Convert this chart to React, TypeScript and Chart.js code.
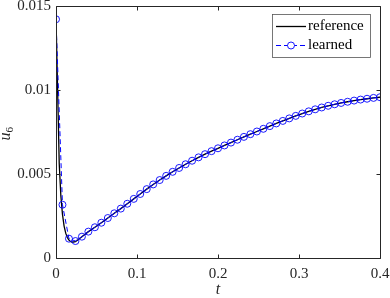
import React, { useEffect, useRef } from 'react';
import { Chart, registerables } from 'chart.js';

Chart.register(...registerables);

// ---- data ----
const learnedT = [
  0, 0.008, 0.016, 0.024, 0.032, 0.04, 0.048, 0.056, 0.064, 0.072, 0.08, 0.088, 0.096,
  0.104, 0.112, 0.12, 0.128, 0.136, 0.144, 0.152, 0.16, 0.168, 0.176, 0.184, 0.192, 0.2,
  0.208, 0.216, 0.224, 0.232, 0.24, 0.248, 0.256, 0.264, 0.272, 0.28, 0.288, 0.296, 0.304,
  0.312, 0.32, 0.328, 0.336, 0.344, 0.352, 0.36, 0.368, 0.376, 0.384, 0.392, 0.4,
];
const learnedU = [
  0.01421, 0.00317, 0.00115, 0.00101, 0.00127, 0.00157, 0.00183, 0.0021, 0.00238, 0.00266,
  0.00294, 0.00323, 0.00352, 0.00381, 0.0041, 0.00438, 0.00464, 0.00489, 0.00513, 0.00536,
  0.00558, 0.00579, 0.00599, 0.00618, 0.00636, 0.00653, 0.0067, 0.00687, 0.00704, 0.00721,
  0.00737, 0.00753, 0.00769, 0.00785, 0.00801, 0.00816, 0.00831, 0.00846, 0.0086, 0.00873,
  0.00885, 0.00896, 0.00906, 0.00915, 0.00923, 0.0093, 0.00937, 0.00943, 0.00948, 0.00953,
  0.00957,
];
const referenceT = [
  0, 0.002, 0.004, 0.006, 0.008, 0.01, 0.012, 0.014, 0.016, 0.018, 0.02, 0.024, 0.032,
  0.04, 0.048, 0.056, 0.064, 0.072, 0.08, 0.088, 0.096, 0.104, 0.112, 0.12, 0.128, 0.136,
  0.144, 0.152, 0.16, 0.168, 0.176, 0.184, 0.192, 0.2, 0.208, 0.216, 0.224, 0.232, 0.24,
  0.248, 0.256, 0.264, 0.272, 0.28, 0.288, 0.296, 0.304, 0.312, 0.32, 0.328, 0.336, 0.344,
  0.352, 0.36, 0.368, 0.376, 0.384, 0.392, 0.4,
];
const referenceU = [
  0.0142, 0.01, 0.0056, 0.0037, 0.0026, 0.0019, 0.00148, 0.00122, 0.00106, 0.00098, 0.00094,
  0.00097, 0.00127, 0.00157, 0.00183, 0.0021, 0.00238, 0.00266, 0.00294, 0.00323, 0.00352,
  0.00381, 0.0041, 0.00438, 0.00464, 0.00489, 0.00513, 0.00536, 0.00558, 0.00579, 0.00599,
  0.00618, 0.00636, 0.00653, 0.0067, 0.00687, 0.00704, 0.00721, 0.00737, 0.00753, 0.00769,
  0.00785, 0.00801, 0.00816, 0.00831, 0.00846, 0.0086, 0.00873, 0.00885, 0.00896, 0.00906,
  0.00915, 0.00923, 0.0093, 0.00937, 0.00943, 0.00948, 0.00953, 0.00957,
];
const xTickLabels = ['0', '0.1', '0.2', '0.3', '0.4'];
const yTickLabels = ['0', '0.005', '0.01', '0.015'];
const seriesLabels = ['reference', 'learned'];
const xTitle = 't';
const yTitleMain = 'u';
const yTitleSub = '6';

const FONT = '"Liberation Serif", "DejaVu Serif", serif';
const AXIS = '#262626';
const BLUE = '#0000ff';

const framePlugin = {
  id: 'frame',
  afterDatasetsDraw(chart: any) {
    const { ctx, chartArea: a, scales } = chart;
    const x = scales.x;
    const y = scales.y;
    ctx.save();
    ctx.strokeStyle = AXIS;
    ctx.lineWidth = 1;
    const L = Math.round(a.left) + 0.5;
    const R = Math.round(a.right) + 0.5;
    const T = Math.round(a.top) + 0.5;
    const B = Math.round(a.bottom) + 0.5;
    ctx.beginPath();
    ctx.moveTo(L, T);
    ctx.lineTo(R, T);
    ctx.lineTo(R, B);
    ctx.lineTo(L, B);
    ctx.closePath();
    ctx.stroke();
    const tl = 4;
    ctx.beginPath();
    x.ticks.forEach((t: any) => {
      const px = Math.round(x.getPixelForValue(t.value)) + 0.5;
      ctx.moveTo(px, B);
      ctx.lineTo(px, B - tl);
      ctx.moveTo(px, T);
      ctx.lineTo(px, T + tl);
    });
    y.ticks.forEach((t: any) => {
      const py = Math.round(y.getPixelForValue(t.value)) + 0.5;
      ctx.moveTo(L, py);
      ctx.lineTo(L + tl, py);
      ctx.moveTo(R, py);
      ctx.lineTo(R - tl, py);
    });
    ctx.stroke();
    ctx.restore();
  },
  afterDraw(chart: any) {
    const { ctx, chartArea: a } = chart;
    ctx.save();
    // axis titles
    ctx.fillStyle = AXIS;
    ctx.font = `italic 16px ${FONT}`;
    ctx.textAlign = 'center';
    ctx.textBaseline = 'middle';
    ctx.fillText(xTitle, (a.left + a.right) / 2, 290);
    ctx.save();
    ctx.translate(7, 133);
    ctx.rotate(-Math.PI / 2);
    ctx.textAlign = 'left';
    ctx.textBaseline = 'alphabetic';
    ctx.font = `italic 16px ${FONT}`;
    const uw = ctx.measureText(yTitleMain).width;
    const sw = 7;
    const x0 = -(uw + sw) / 2;
    ctx.fillText(yTitleMain, x0, 3);
    ctx.font = `11px ${FONT}`;
    ctx.fillText(yTitleSub, x0 + uw, 6);
    ctx.restore();

    // legend
    const bx = 272.5, by = 14.5, bw = 98, bh = 43;
    ctx.fillStyle = '#ffffff';
    ctx.fillRect(bx, by, bw, bh);
    ctx.strokeStyle = '#555555';
    ctx.lineWidth = 0.8;
    ctx.strokeRect(bx, by, bw, bh);
    const rows = [26, 45];
    const ds = chart.data.datasets;
    ctx.font = `15px ${FONT}`;
    ctx.textAlign = 'left';
    ctx.textBaseline = 'middle';
    rows.forEach((ry: number, i: number) => {
      const d = ds[i];
      ctx.save();
      ctx.strokeStyle = d.borderColor;
      ctx.lineWidth = d.borderWidth;
      ctx.setLineDash(d.borderDash || []);
      ctx.beginPath();
      ctx.moveTo(276, ry + 0.5);
      ctx.lineTo(306, ry + 0.5);
      ctx.stroke();
      ctx.setLineDash([]);
      if (d.pointRadius > 0) {
        ctx.lineWidth = d.pointBorderWidth;
        ctx.strokeStyle = d.pointBorderColor;
        ctx.fillStyle = '#ffffff';
        ctx.beginPath();
        ctx.arc(291, ry + 0.5, d.pointRadius, 0, Math.PI * 2);
        ctx.fill();
        ctx.stroke();
      }
      ctx.restore();
      ctx.fillStyle = '#000000';
      ctx.fillText(seriesLabels[i], 308, ry);
    });
    ctx.restore();
  },
};

export default function App() {
  const ref = useRef<HTMLCanvasElement | null>(null);
  useEffect(() => {
    if (!ref.current) return;
    const chart = new Chart(ref.current, {
      type: 'line',
      data: {
        datasets: [
          {
            label: seriesLabels[0],
            data: referenceT.map((t, i) => ({ x: t, y: referenceU[i] })),
            borderColor: '#000000',
            borderWidth: 1.3,
            pointRadius: 0,
            fill: false,
            order: 1,
          },
          {
            label: seriesLabels[1],
            data: learnedT.map((t, i) => ({ x: t, y: learnedU[i] })),
            borderColor: BLUE,
            borderWidth: 1,
            borderDash: [5, 3],
            pointRadius: 3.5,
            pointBorderColor: BLUE,
            pointBackgroundColor: 'rgba(0,0,0,0)',
            pointBorderWidth: 0.9,
            fill: false,
            order: 0,
          },
        ] as any,
      },
      plugins: [framePlugin],
      options: {
        animation: false,
        responsive: false,
        devicePixelRatio: 1,
        layout: { padding: { top: 6, right: 10, left: 0, bottom: 0 } },
        plugins: { legend: { display: false }, tooltip: { enabled: false } },
        scales: {
          x: {
            type: 'linear',
            min: 0,
            max: 0.4,
            grid: { display: false, drawTicks: false },
            border: { display: false },
            ticks: {
              stepSize: 0.1,
              padding: 7,
              color: AXIS,
              font: { family: FONT, size: 15 },
              maxRotation: 0,
              callback: (_v: any, i: number) => xTickLabels[i],
            },
            afterFit: (s: any) => {
              s.height = 40;
              s.paddingLeft = 0;
              s.paddingRight = 0;
            },
          },
          y: {
            type: 'linear',
            min: 0,
            max: 0.015,
            grid: { display: false, drawTicks: false },
            border: { display: false },
            ticks: {
              stepSize: 0.005,
              padding: 5,
              color: AXIS,
              font: { family: FONT, size: 15 },
              callback: (_v: any, i: number) => yTickLabels[i],
            },
            afterFit: (s: any) => {
              s.width = 56;
              s.paddingTop = 0;
              s.paddingBottom = 0;
            },
          },
        },
      },
    });
    return () => chart.destroy();
  }, []);
  return (
    <div style={{ position: 'absolute', left: 0, top: 0, width: 390, height: 298, background: '#fff' }}>
      <canvas ref={ref} width={390} height={298} style={{ width: 390, height: 298 }} />
    </div>
  );
}
